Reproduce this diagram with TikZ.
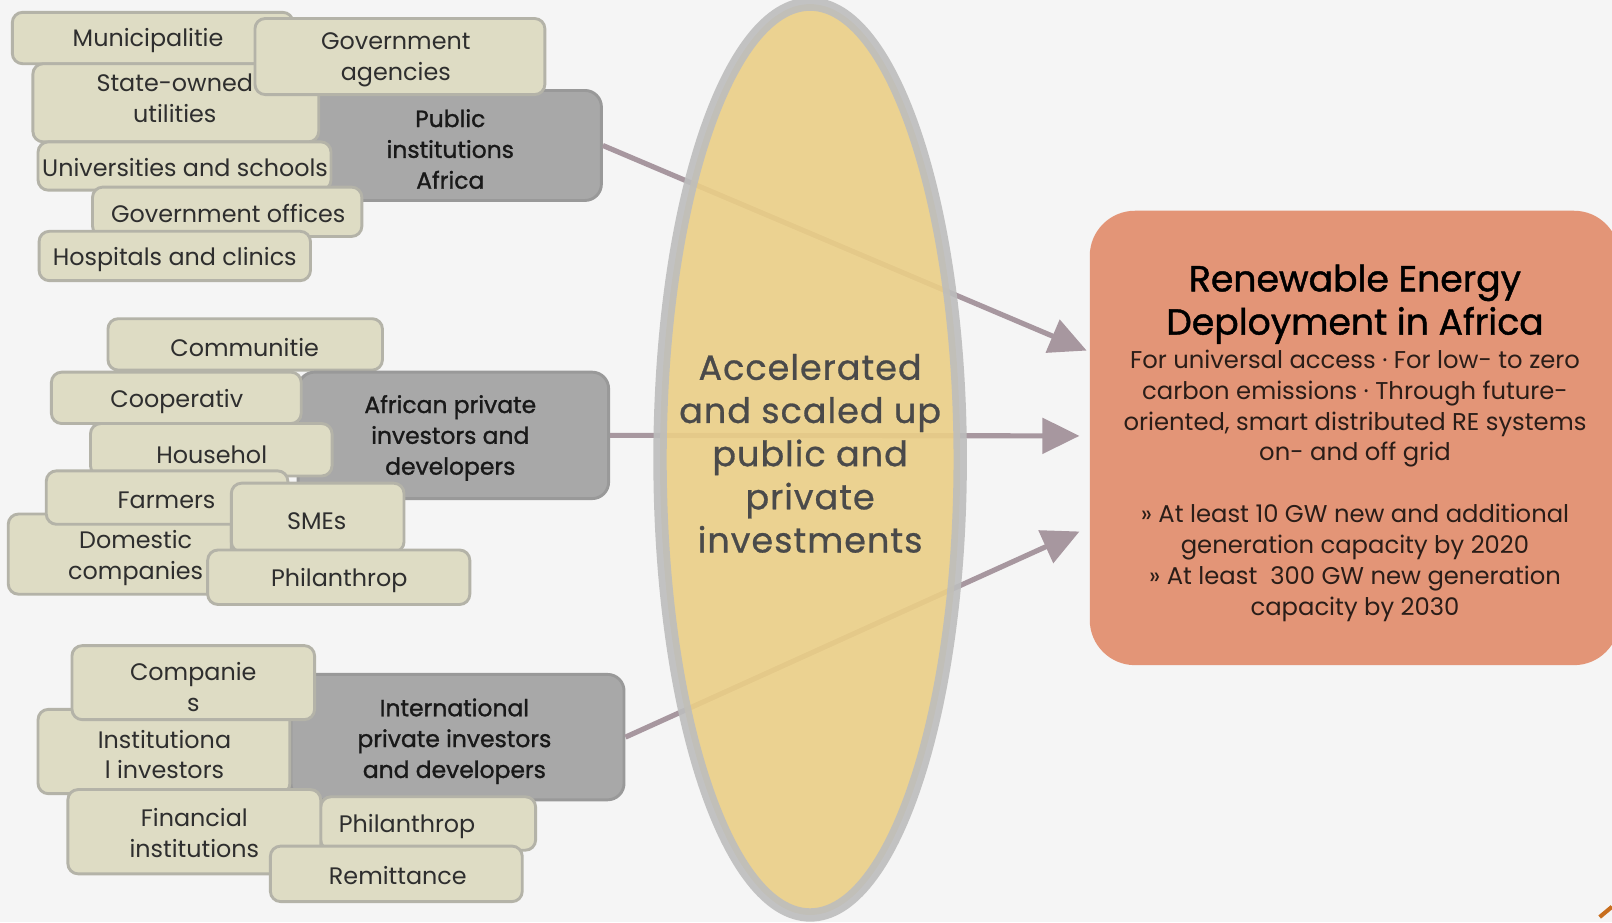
\documentclass[tikz,border=0pt]{standalone}
\usepackage{fontspec}
\setmainfont{Poppins}
\newfontfamily\medfont{Poppins}[FakeBold=1.2]
\newfontfamily\ellfont{Poppins}[FakeBold=0.8,LetterSpace=3]
\usetikzlibrary{arrows.meta,shapes.geometric,fit}
\definecolor{bg}{HTML}{F5F5F5}
\definecolor{beige}{HTML}{DEDCC4}
\definecolor{beigeline}{HTML}{B4B3A8}
\definecolor{dark}{HTML}{A8A8A8}
\definecolor{darkline}{HTML}{999999}
\definecolor{arrowc}{HTML}{A7979F}
\definecolor{ellfill}{HTML}{EBCF87}
\definecolor{ellring}{HTML}{BDBDBD}
\definecolor{salmon}{HTML}{E39577}
\definecolor{txt}{HTML}{2E2E2E}
\definecolor{redtxt}{HTML}{2A1D18}
\definecolor{elltxt}{HTML}{4A4A4A}
\tikzset{
 box/.style={draw=beigeline, fill=beige, line width=1.4pt, rounded corners=5pt, inner sep=0pt},
 dbox/.style={draw=darkline, fill=dark, line width=1.4pt, rounded corners=8pt, inner sep=0pt},
 lbl/.style={align=center, text=txt, font=\fontsize{11.6}{15}\selectfont, inner sep=0pt},
 dlbl/.style={align=center, text=black!90, font=\fontsize{11.4}{15}\selectfont\medfont, inner sep=0pt},
 conn/.style={draw=arrowc, line width=2.5pt, -{Triangle[length=18pt,width=17pt]}},
}
\begin{document}
\begin{tikzpicture}[x=0.5pt,y=-0.5pt]
\fill[bg] (0,0) rectangle (1568,897);
\useasboundingbox (0,0) rectangle (1568,897);

% ---- group 1
\node[box, fit={(12,12) (285,62)}] (muni) {};
\node[lbl] (muniT) at (144,39) {Municipalitie};
\node[dbox, fit={(305,88) (585,195)}] (pub) {};
\node[dlbl] (pubT) at (438,145) {Public\\institutions\\Africa};
\node[box, fit={(32,62) (310,138)}] (state) {};
\node[lbl] (stateT) at (170,96) {State-owned\\utilities};
\node[box, fit={(248,18) (530,92)}] (gova) {};
\node[lbl] (govaT) at (385,58) {Government\\agencies};
\node[box, fit={(37,138) (322,185)}] (univ) {};
\node[lbl] (univT) at (180,163) {Universities and schools};
\node[box, fit={(90,182) (352,230)}] (govo) {};
\node[lbl] (govoT) at (222,208) {Government offices};
\node[box, fit={(38,225) (302,273)}] (hosp) {};
\node[lbl] (hospT) at (170,252) {Hospitals and clinics};

% ---- group 2
\node[box, fit={(105,310) (372,360)}] (comm) {};
\node[lbl] (commT) at (238,338) {Communitie};
\node[dbox, fit={(290,362) (592,485)}] (afr) {};
\node[dlbl] (afrT) at (438,426) {African private\\investors and\\developers};
\node[box, fit={(50,362) (293,412)}] (coop) {};
\node[lbl] (coopT) at (172,391) {Cooperativ};
\node[box, fit={(88,412) (323,463)}] (hous) {};
\node[lbl] (housT) at (206,442) {Househol};
\node[box, fit={(8,500) (225,578)}] (dom) {};
\node[lbl] (domT) at (132,543) {Domestic\\companies};
\node[box, fit={(45,458) (280,510)}] (farm) {};
\node[lbl] (farmT) at (162,487) {Farmers};
\node[box, fit={(225,470) (393,537)}] (sme) {};
\node[lbl] (smeT) at (308,507) {SMEs};
\node[box, fit={(202,535) (457,588)}] (phila) {};
\node[lbl] (philaT) at (330,565) {Philanthrop};

% ---- group 3
\node[dbox, fit={(283,656) (607,778)}] (intl) {};
\node[dlbl] (intlT) at (442,721) {International\\private investors\\and developers};
\node[box, fit={(37,690) (282,772)}] (inst) {};
\node[lbl] (instT) at (160,734) {Institutiona\\l investors};
\node[box, fit={(70,628) (306,700)}] (comp) {};
\node[lbl] (compT) at (188,668) {Companie\\s};
\node[box, fit={(312,775) (521,827)}] (philb) {};
\node[lbl] (philbT) at (396,804) {Philanthrop};
\node[box, fit={(66,768) (312,850)}] (fin) {};
\node[lbl] (finT) at (189,810) {Financial\\institutions};
\node[box, fit={(263,823) (508,877)}] (remi) {};
\node[lbl] (remiT) at (387,852) {Remittance};

% ---- target box
\node[fill=salmon, rounded corners=22pt, inner sep=0pt, fit={(1060,205) (1575,647)}] (re) {};
\node[align=center, text=black, inner sep=0pt, font=\fontsize{17.6}{21}\selectfont\medfont] (reT) at (1318,296) {Renewable Energy\\Deployment in Africa};
\node[align=center, text=redtxt, inner sep=0pt, font=\fontsize{11.8}{15}\selectfont, anchor=north] (reB) at (1318,340) {For universal access · For low- to zero\\carbon emissions · Through future-\\oriented, smart distributed RE systems\\on- and off grid\\[15pt]» At least 10 GW new and additional\\generation capacity by 2020\\» At least~ 300 GW new generation\\capacity by 2030};

% ---- connectors
\coordinate (t1) at (1057,341);
\coordinate (t2) at (1050,424);
\coordinate (t3) at (1050,517);
\draw[conn] (pub.east) -- (t1);
\draw[conn] (afr.east) -- (t2);
\draw[conn] (intl.east) -- (t3);

% ---- ellipse
\node[ellipse, draw=ellring, fill=ellfill, line width=6.5pt, fill opacity=0.9, draw opacity=0.9, inner sep=0pt, minimum width=146pt, minimum height=443pt] (ell) at (788,447) {};
\node[align=center, text=elltxt, inner sep=0pt, font=\fontsize{17}{21}\selectfont\ellfont] (ellT) at (788,441) {Accelerated\\and scaled up\\public and\\private\\investments};

% small corner mark
\coordinate (m1) at (1556,892);
\coordinate (m2) at (1568,882);
\draw[draw={rgb,255:red,200;green,110;blue,30}, line width=2pt] (m1) -- (m2);
\end{tikzpicture}
\end{document}
